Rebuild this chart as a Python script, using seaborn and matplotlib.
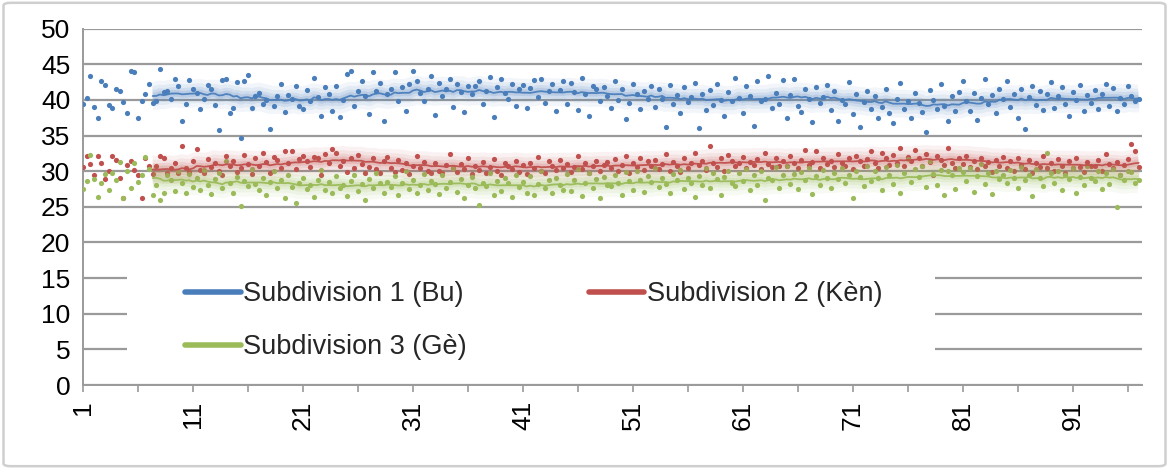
import numpy as np
import pandas as pd
import matplotlib
matplotlib.use("Agg")
import matplotlib.pyplot as plt
from matplotlib.lines import Line2D
from matplotlib.patches import Rectangle, FancyBboxPatch
import seaborn as sns

# ---------------- data ----------------
labels = ["Subdivision 1 (Bu)", "Subdivision 2 (Kèn)", "Subdivision 3 (Gè)"]
colors = ["#4A7EBB", "#C0504D", "#9BBB59"]
y_ticks = [0, 5, 10, 15, 20, 25, 30, 35, 40, 45, 50]
x_tick_labels = [1, 11, 21, 31, 41, 51, 61, 71, 81, 91]
x_minor_ticks = [6, 16, 26, 36, 46, 56, 66, 76, 86, 96]
points_per_category = 3
ma_period = 20

sub1_bu = [
    39.5, 40.3, 43.4, 39.0, 37.5, 42.6, 42.1, 39.3, 38.9, 41.6, 41.3, 39.7,
    38.2, 44.0, 43.9, 37.4, 39.8, 40.8, 42.2, 39.6, 39.8, 44.3, 41.1, 41.2,
    40.1, 42.9, 42.0, 37.1, 39.4, 42.8, 41.5, 41.0, 38.7, 40.2, 42.1, 41.6,
    39.3, 35.8, 42.8, 43.0, 38.2, 38.9, 42.5, 34.7, 42.6, 43.5, 38.9, 40.5,
    41.0, 39.5, 40.0, 35.9, 39.2, 40.6, 42.3, 38.3, 40.7, 40.2, 41.9, 39.1,
    38.8, 41.4, 39.9, 43.1, 40.4, 37.7, 41.8, 40.9, 38.5, 42.0, 37.6, 40.0,
    43.6, 44.1, 39.2, 41.2, 42.6, 40.6, 38.0, 43.9, 41.3, 42.4, 37.1, 40.9,
    41.5, 43.9, 39.8, 41.8, 38.4, 42.2, 44.0, 42.7, 41.0, 39.9, 41.6, 43.3,
    37.9, 42.4, 40.5, 41.6, 43.0, 39.0, 42.2, 41.1, 38.3, 42.0, 40.8, 41.9,
    42.7, 39.4, 41.3, 43.2, 37.6, 41.8, 42.9, 41.0, 40.1, 42.3, 39.1, 41.6,
    42.1, 38.9, 41.7, 42.8, 40.4, 43.0, 39.6, 41.2, 42.3, 38.4, 41.4, 42.6,
    39.4, 42.4, 41.1, 38.6, 43.1, 40.9, 37.8, 42.0, 41.5, 39.9, 41.8, 40.5,
    38.9, 42.6, 40.0, 41.5, 37.3, 39.6, 42.3, 40.8, 38.7, 41.2, 40.1, 42.0,
    39.0, 41.6, 40.2, 36.2, 42.1, 39.4, 40.7, 38.1, 41.8, 39.7, 40.4, 42.4,
    36.0, 40.9, 38.6, 41.4, 39.3, 42.2, 40.0, 37.8, 41.1, 39.8, 43.1, 40.3,
    38.2, 41.9, 40.6, 36.4, 42.6, 39.9, 40.2, 43.4, 38.9, 41.0, 39.5, 42.8,
    37.4, 40.7, 43.0, 39.1, 38.3, 41.5, 40.1, 36.9, 41.8, 39.6, 40.4, 42.1,
    38.6, 41.3, 37.1, 40.0, 39.4, 42.5, 38.0, 40.8, 36.2, 39.7, 41.2, 38.8,
    40.5, 37.5, 39.0, 41.6, 38.1, 36.8, 40.2, 42.4, 38.7, 39.9, 37.4, 41.0,
    39.6, 38.3, 35.5, 41.4, 40.0, 38.8, 42.3, 39.2, 37.0, 40.6, 38.5, 41.1,
    42.6, 39.8, 38.4, 41.0, 37.2, 40.3, 42.9, 39.5, 40.7, 38.1, 41.5, 40.2,
    42.7, 39.0, 40.8, 37.5, 41.6, 35.9, 40.4, 42.0, 39.3, 41.3, 38.6, 40.9,
    42.5, 38.9, 40.6, 41.8, 39.5, 37.7, 41.1, 40.0, 42.1, 38.4, 40.7, 39.6,
    41.4, 38.7, 40.9, 42.2, 39.2, 41.7, 38.5, 40.3, 39.4, 42.0, 40.6, 39.9,
    40.1,
]

sub2_ken = [
    30.6, 32.2, 31.0, 29.4, 32.1, 31.2, 28.9, 30.1, 32.1, 31.6, 29.0, 26.3,
    30.9, 31.4, 30.2, 29.4, 26.3, 31.8, 30.7, 29.6, 30.8, 32.1, 31.9, 29.8,
    30.4, 31.1, 29.7, 33.6, 30.5, 29.9, 31.4, 33.1, 30.2, 29.8, 31.7, 30.6,
    31.2, 30.0, 29.4, 32.1, 30.8, 31.5, 29.9, 30.4, 32.3, 31.0, 29.6, 31.8,
    30.7, 32.5, 31.3, 29.8, 32.0, 31.6, 30.5, 32.8, 31.1, 32.9, 30.3, 31.7,
    32.2, 31.4, 30.6, 32.0, 31.8, 29.5, 32.4, 31.2, 33.1, 32.6, 30.8, 31.5,
    29.9, 31.8, 30.4, 32.3, 31.0, 29.8, 30.6, 31.9, 30.3, 29.7, 31.4, 32.0,
    30.5, 29.9, 31.6, 30.2, 31.1, 29.6, 30.8, 32.1, 30.4, 31.3, 30.0, 29.8,
    31.2, 30.1, 29.7, 30.9, 32.4, 30.5, 29.9, 31.0, 30.3, 31.8, 29.6, 30.7,
    30.2, 31.3, 29.8, 30.6, 31.7, 30.0, 29.5, 31.1, 30.8, 30.3, 31.5, 29.9,
    30.9, 29.6, 31.2, 30.4, 32.0, 30.1, 29.8, 31.4, 30.7, 30.2, 31.6, 30.5,
    31.0, 29.9, 30.6, 32.1, 30.3, 31.2, 29.7, 30.8, 31.5, 30.1, 30.9, 31.3,
    30.4, 31.7, 30.0, 30.9, 32.2, 29.8, 31.1, 30.6, 31.8, 30.2, 31.4, 30.7,
    31.6, 30.3, 31.0, 32.4, 30.1, 31.3, 30.8, 29.9, 31.9, 30.5, 31.2, 32.6,
    30.9, 31.5, 30.2, 33.5, 31.1, 30.6, 31.8, 30.0, 32.3, 31.4, 30.7, 31.2,
    32.0, 30.5, 31.3, 30.9, 31.7, 30.3, 32.5, 31.0, 30.6, 31.9, 30.8, 31.4,
    30.7, 32.2, 31.1, 30.4, 31.6, 33.0, 30.9, 31.3, 32.8, 30.5, 31.8, 31.0,
    31.5, 30.6, 32.4, 31.2, 30.8, 31.9, 30.3, 32.1, 31.4, 30.7, 31.7, 32.9,
    31.1, 30.4, 32.6, 31.8, 30.9, 32.3, 31.2, 33.2, 30.7, 32.0, 31.5, 33.0,
    31.9, 30.8, 32.4, 31.3, 29.4, 32.1, 31.6, 30.9, 33.3, 31.2, 30.5, 31.8,
    31.0, 32.2, 30.6, 31.5, 30.3, 31.9, 30.8, 31.3, 29.9, 31.6, 30.7, 32.0,
    30.5, 31.4, 30.1, 31.8, 30.9, 30.3, 31.6, 29.8, 31.1, 30.6, 32.2, 30.4,
    31.2, 30.0, 31.7, 30.8, 29.7, 31.5, 30.4, 31.9, 30.6, 29.9, 31.3, 30.7,
    30.8, 31.6, 30.1, 32.4, 31.0, 30.5, 31.3, 29.4, 30.9, 31.7, 33.8, 32.9,
    30.6,
]

sub3_ge = [
    27.5, 28.6, 32.3, 28.9, 26.4, 28.4, 29.6, 27.3, 29.8, 28.7, 31.3, 26.3,
    30.0, 27.7, 31.2, 28.5, 29.5, 32.0, 30.3, 26.6, 28.0, 25.9, 27.0, 29.4,
    28.8, 27.2, 30.1, 28.4, 26.9, 29.6, 27.8, 29.0, 27.4, 30.2, 28.1, 26.8,
    28.9, 29.7, 27.6, 31.5, 28.3, 27.0, 29.2, 25.1, 28.6, 27.9, 30.3, 28.2,
    27.3, 29.1, 26.7, 28.5, 30.0, 27.6, 28.8, 26.2, 29.4, 27.8, 25.6, 28.4,
    29.0, 27.5, 28.1, 26.4, 28.7, 30.2, 27.3, 28.5, 26.9, 29.3, 27.7, 28.0,
    26.5, 28.6, 29.5, 27.2, 28.2, 26.0, 28.9, 27.6, 29.8, 28.3, 27.0, 28.5,
    27.8, 29.3, 26.6, 28.4, 30.1, 27.5, 28.8, 26.9, 28.1, 29.6, 27.3, 28.6,
    28.2, 26.8, 29.4, 27.7, 28.5, 30.4, 27.1, 28.9, 26.3, 28.0, 29.2, 27.6,
    25.3, 28.4, 27.9, 29.7, 26.6, 28.6, 27.2, 29.0, 28.3, 26.4, 29.5, 27.8,
    28.5, 27.0, 29.3, 26.7, 28.2, 30.0, 27.6, 28.8, 26.9, 29.1, 28.0, 27.4,
    29.6, 27.2, 28.7, 30.3, 26.5, 28.4, 29.8, 27.7, 28.9, 26.2, 29.2, 28.1,
    27.9, 29.5, 28.3, 26.6, 29.9, 28.6, 27.4, 30.1, 28.8, 27.1, 29.3, 28.5,
    30.4, 27.8, 29.1, 28.2, 26.9, 29.6, 28.7, 30.2, 27.5, 29.0, 28.4, 26.4,
    29.3, 28.0, 30.5, 27.6, 29.7, 28.9, 26.7, 29.2, 30.1, 28.3, 27.9, 29.8,
    28.6, 30.3, 27.4, 29.5, 28.1, 30.0, 26.0, 29.1, 28.8, 30.6, 27.7, 29.4,
    30.7, 28.2, 29.6, 27.5, 29.9, 28.7, 30.4, 26.8, 29.3, 28.0, 30.2, 29.1,
    27.6, 29.8, 28.9, 30.5, 28.3, 29.4, 26.3, 30.0, 29.2, 27.9, 30.8, 28.6,
    30.1, 29.0, 27.4, 30.6, 29.5, 28.2, 30.9, 26.9, 29.7, 31.7, 28.5, 30.3,
    29.2, 30.7, 27.8, 31.4, 29.6, 28.1, 30.2, 26.7, 30.0, 29.4, 27.5, 30.5,
    29.9, 28.6, 30.4, 27.1, 29.3, 31.0, 28.2, 29.7, 26.8, 30.1, 28.9, 29.5,
    28.3, 30.2, 29.0, 27.6, 30.6, 28.8, 29.4, 26.5, 30.3, 29.1, 27.9, 32.5,
    29.7, 28.4, 30.1, 27.3, 29.5, 28.9, 30.4, 26.9, 29.2, 28.1, 30.7, 29.0,
    28.6, 30.0, 27.5, 29.8, 28.2, 30.3, 25.0, 29.4, 28.7, 30.1, 29.9, 28.4,
    28.8,
]

series = [sub1_bu, sub2_ken, sub3_ge]

# ---------------- figure ----------------
W, H, DPI = 1169, 469, 100
sns.set_theme(style="white")
plt.rcParams["font.family"] = ["Liberation Sans", "DejaVu Sans"]
FS = 19
FS_LEG = 19.5

fig = plt.figure(figsize=(W / DPI, H / DPI), dpi=DPI, facecolor="white")
ax_l, ax_r, ax_t, ax_b = 83, 1142, 28.7, 385
ax = fig.add_axes([ax_l / W, (H - ax_b) / H, (ax_r - ax_l) / W, (ax_b - ax_t) / H])
ax.set_facecolor("white")

frames = []
for name, vals in zip(labels, series):
    n = len(vals)
    xs = 1 + np.arange(n) / points_per_category
    frames.append(pd.DataFrame({"x": xs, "y": vals, "series": name}))
df = pd.concat(frames, ignore_index=True)

# scatter points
for name, col in zip(labels, colors):
    sub = df[df["series"] == name]
    sns.scatterplot(data=sub, x="x", y="y", color=col, s=14, linewidth=0,
                    marker="o", ax=ax, zorder=3, legend=False)

# moving-average trendlines with soft glow
for name, col in zip(labels, colors):
    sub = df[df["series"] == name].copy()
    sub["ma"] = sub["y"].rolling(ma_period).mean()
    sub = sub.dropna(subset=["ma"])
    for lw, a in [(20, 0.07), (14, 0.09), (9, 0.12), (5, 0.16)]:
        sns.lineplot(data=sub, x="x", y="ma", color=col, linewidth=lw, alpha=a,
                     ax=ax, zorder=4, legend=False, solid_capstyle="butt")
    sns.lineplot(data=sub, x="x", y="ma", color=col, linewidth=1.3, alpha=0.95,
                 ax=ax, zorder=5, legend=False)

# axes styling
grid_col = "#9a9a9a"
ax.set_xlim(1, 97.3)
ax.set_ylim(0, 50)
ax.set_yticks(y_ticks)
ax.set_yticklabels([str(v) for v in y_ticks])
ax.set_xticks(x_tick_labels)
ax.set_xticklabels([str(v) for v in x_tick_labels], rotation=90)
ax.set_xticks(x_minor_ticks, minor=True)
ax.set_xlabel("")
ax.set_ylabel("")
ax.yaxis.grid(True, color=grid_col, linewidth=1.6)
ax.xaxis.grid(False)
ax.set_axisbelow(True)
for s in ["top", "right"]:
    ax.spines[s].set_visible(False)
for s in ["left", "bottom"]:
    ax.spines[s].set_visible(True)
    ax.spines[s].set_color(grid_col)
    ax.spines[s].set_linewidth(1.4)
ax.tick_params(axis="both", which="both", direction="out", length=5,
               width=1.2, color=grid_col, labelsize=FS, labelcolor="black")
ax.tick_params(axis="y", pad=4)
ax.tick_params(axis="x", which="both", pad=6, bottom=True)

# white legend area covering the grid
rx0 = (127 - ax_l) / (ax_r - ax_l)
rx1 = (935 - ax_l) / (ax_r - ax_l)
ry0 = (ax_b - 372) / (ax_b - ax_t)
ry1 = (ax_b - 256) / (ax_b - ax_t)
ax.add_patch(Rectangle((rx0, ry0), rx1 - rx0, ry1 - ry0, transform=ax.transAxes,
                       facecolor="white", edgecolor="none", zorder=1.5))

handles = [Line2D([], [], color=c, linewidth=4, solid_capstyle="round") for c in colors]
order = [0, 2, 1]
leg = ax.legend([handles[i] for i in order], [labels[i] for i in order],
                ncol=2, loc="upper left",
                bbox_to_anchor=((185 - ax_l) / (ax_r - ax_l), (ax_b - 281) / (ax_b - ax_t)),
                frameon=False, fontsize=FS_LEG, handlelength=2.05, handletextpad=0.1,
                columnspacing=4.5, labelspacing=1.0, borderpad=0, borderaxespad=0)
leg.set_zorder(6)

# outer chart border (rounded, light grey)
fig.patches.append(FancyBboxPatch((0.003, 0.006), 0.994, 0.988,
                                  boxstyle="round,pad=0,rounding_size=0.006",
                                  transform=fig.transFigure, fill=False,
                                  edgecolor="#cfcfcf", linewidth=1.8))

fig.savefig("out.png", dpi=DPI, facecolor="white")
